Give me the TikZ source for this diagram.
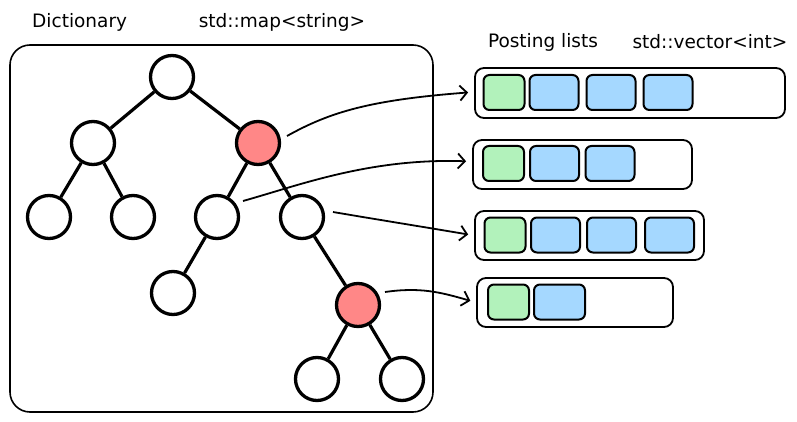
\documentclass[tikz,border=0pt]{standalone}
\usepackage{fontspec}
\setmainfont{DejaVu Sans}
\usetikzlibrary{arrows.meta}
\definecolor{redfill}{HTML}{FF8787}
\definecolor{greenfill}{HTML}{B2F2BB}
\definecolor{bluefill}{HTML}{A5D8FF}
\begin{document}
\begin{tikzpicture}[x=1pt,y=-1pt,
  tnode/.style={circle,draw=black,line width=3.3pt,minimum size=43pt,inner sep=0pt,fill=white},
  rnode/.style={tnode,fill=redfill},
  edge/.style={line width=3.2pt},
  frame/.style={draw=black,line width=1.6pt,rounded corners=20pt,inner sep=0pt},
  outer/.style={draw=black,line width=1.8pt,rounded corners=9pt,fill=white,inner sep=0pt,minimum height=49pt},
  gcell/.style={draw=black,line width=2pt,rounded corners=6pt,fill=greenfill,inner sep=0pt,minimum height=35pt,minimum width=41pt},
  bcell/.style={draw=black,line width=2pt,rounded corners=6pt,fill=bluefill,inner sep=0pt,minimum height=35pt,minimum width=49pt},
  arr/.style={line width=1.8pt,-{Straight Barb[length=7pt,width=15pt]},shorten >=6pt},
  lbl/.style={font=\fontsize{18.5}{20}\selectfont,inner sep=0pt}
]
\useasboundingbox (0,0) rectangle (797,422);
% labels
\node[lbl,anchor=west] (tdict) at (32,22) {Dictionary};
\node[lbl] (tmap) at (282,22) {std::map<string>};
\node[lbl] (tpost) at (543,42) {Posting lists};
\node[lbl] (tvec) at (710,42) {std::vector<int>};
% dictionary frame
\node[frame,minimum width=423pt,minimum height=367pt] (dict) at (221.5,228.5) {};
% tree nodes
\node[tnode] (n) at (172,77) {};
\node[tnode] (l) at (93,143) {};
\node[rnode] (r) at (258,143) {};
\node[tnode] (ll) at (49,217) {};
\node[tnode] (lr) at (133,217) {};
\node[tnode] (rl) at (217,217) {};
\node[tnode] (rr) at (302,217) {};
\node[tnode] (rll) at (173,293) {};
\node[rnode] (rrr) at (358,305) {};
\node[tnode] (rrrl) at (317,379) {};
\node[tnode] (rrrr) at (402,379) {};
\draw[edge] (n) -- (l);
\draw[edge] (n) -- (r);
\draw[edge] (l) -- (ll);
\draw[edge] (l) -- (lr);
\draw[edge] (r) -- (rl);
\draw[edge] (r) -- (rr);
\draw[edge] (rl) -- (rll);
\draw[edge] (rr) -- (rrr);
\draw[edge] (rrr) -- (rrrl);
\draw[edge] (rrr) -- (rrrr);
% posting lists
\node[outer,minimum width=310pt,minimum height=50pt] (p1) at (630,93) {};
\node[gcell] (p1a) at (504,92.5) {};
\node[bcell] (p1b) at (554,92.5) {};
\node[bcell] (p1c) at (611,92.5) {};
\node[bcell] (p1d) at (668,92.5) {};
\node[outer,minimum width=219pt] (p2) at (582.5,164.5) {};
\node[gcell] (p2a) at (503.5,163.5) {};
\node[bcell] (p2b) at (554.5,163.5) {};
\node[bcell] (p2c) at (610,163.5) {};
\node[outer,minimum width=229pt] (p3) at (589.5,235.5) {};
\node[gcell] (p3a) at (505,235) {};
\node[bcell] (p3b) at (555.5,235) {};
\node[bcell] (p3c) at (611.5,235) {};
\node[bcell] (p3d) at (669.5,235) {};
\node[outer,minimum width=196pt] (p4) at (575,302.5) {};
\node[gcell] (p4a) at (508.5,302) {};
\node[bcell,minimum width=51pt] (p4b) at (559.5,302) {};
% arrows
\coordinate (s1) at (287,136);
\coordinate (s2) at (243,201);
\coordinate (s3) at (333,212);
\coordinate (s4) at (385,292);
\draw[arr] (s1) .. controls (330,112) and (370,100) .. ([yshift=1pt]p1.west);
\draw[arr] (s2) .. controls (300,185) and (370,158) .. ([yshift=3pt]p2.west);
\draw[arr] (s3) .. controls (380,220) and (430,228) .. (p3.west);
\draw[arr] (s4) .. controls (420,287) and (440,292) .. (p4.west);
\end{tikzpicture}
\end{document}
